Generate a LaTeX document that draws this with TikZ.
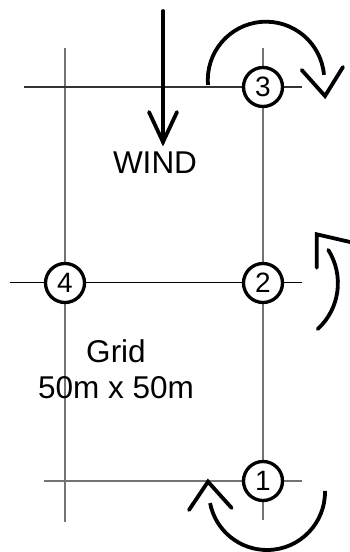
\documentclass[tikz,border=0pt]{standalone}
\usepackage{fontspec}
\setmainfont{Liberation Sans}
\begin{document}
\begin{tikzpicture}[x=1pt,y=1pt,
  gridline/.style={line width=1.5pt,black!55},
  gridlinedark/.style={line width=1.1pt,black!80},
  marker/.style={circle,draw=black,fill=white,line width=3.3pt,minimum size=39pt,inner sep=0pt,font=\fontsize{28}{28}\selectfont},
  label/.style={font=\fontsize{31.5}{36.3}\selectfont,align=center,inner sep=0pt},
  rot/.style={line width=3.8pt,line cap=round,line join=round},
  vhead/.style={line width=3.8pt,line cap=round,line join=miter}]
\useasboundingbox (0,0) rectangle (349,552);
% grid lines
\coordinate (vlT) at (65,504);  \coordinate (vlB) at (65,30);
\coordinate (vrT) at (263,504); \coordinate (vrB) at (263,32);
\coordinate (htL) at (24,465);  \coordinate (htR) at (302,465);
\coordinate (hmL) at (10,269);  \coordinate (hmR) at (302,269);
\coordinate (hbL) at (44,71);   \coordinate (hbR) at (302,71);
\draw[gridline] (vlT) -- (vlB);
\draw[gridline] (vrT) -- (vrB);
\draw[gridlinedark] (htL) -- (htR);
\draw[line width=1pt,black] (hmL) -- (hmR);
\draw[gridline] (hbL) -- (hbR);
% markers
\node[marker] (n3) at (263,465) {3};
\node[marker] (n2) at (263,269) {2};
\node[marker] (n4) at (65,269) {4};
\node[marker] (n1) at (263,71) {1};
% texts
\node[label] (wind) at (155,389.5) {WIND};
\node[label] (grid) at (116,182.6) {Grid\\50m x 50m};
% wind arrow
\coordinate (wS) at (163,541);
\coordinate (wT) at (163,410);
\draw[rot] (wS) -- (wT);
\draw[vhead] (149,440) -- (wT) -- (177,440);
% rotation at 3
\draw[rot,line cap=butt] (266,472.1) ++(185:58.2) arc[start angle=185,end angle=5,radius=58.2];
\draw[vhead] (301.7,482) -- (325,456) -- (343,485);
% rotation at 2
\draw[rot] (275.7,268.8) ++(-47.5:62.2) arc[start angle=-47.5,end angle=32.3,radius=62.2];
\draw[vhead] (316.7,284.3) -- (316.7,317.7) -- (350,310);
% rotation at 1
\draw[rot,line cap=butt] (267,60) ++(1:58) arc[start angle=1,end angle=-169,radius=58];
\draw[vhead] (189,42) -- (208,70.3) -- (231.7,44);
\end{tikzpicture}
\end{document}
